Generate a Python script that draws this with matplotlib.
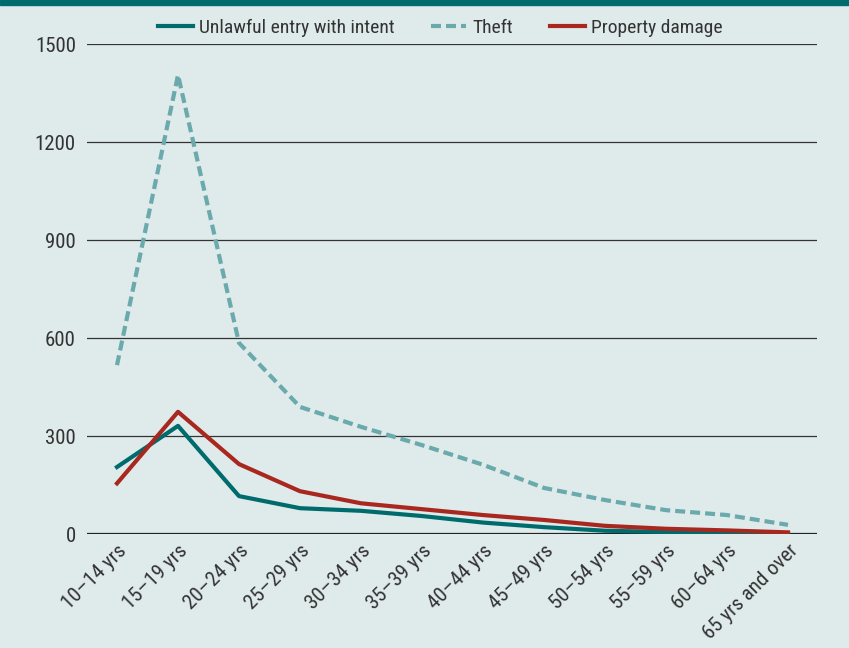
import matplotlib
matplotlib.use("Agg")
import matplotlib.pyplot as plt
from matplotlib.patches import Rectangle

# --- Data ---
age_groups = ["10–14 yrs", "15–19 yrs", "20–24 yrs", "25–29 yrs", "30–34 yrs", "35–39 yrs",
              "40–44 yrs", "45–49 yrs", "50–54 yrs", "55–59 yrs", "60–64 yrs", "65 yrs and over"]
unlawful_entry = [205, 331, 116, 79, 71, 55, 35, 21, 10, 6, 4, 2]
theft = [517, 1405, 585, 389, 328, 272, 212, 141, 104, 73, 58, 28]
property_damage = [155, 374, 214, 131, 94, 76, 58, 43, 25, 16, 11, 5]
y_ticks = [0, 300, 600, 900, 1200, 1500]

BG = "#dfeaeb"
TEAL = "#006b6d"
LIGHT_TEAL = "#6aaaac"
RED = "#a8281f"
TXT = "#333333"

plt.rcParams['font.family'] = ['Roboto Condensed', 'DejaVu Sans']

fig = plt.figure(figsize=(8.49, 6.48), dpi=100)
fig.patch.set_facecolor(BG)
fig.patches.append(Rectangle((0, 1 - 5 / 648), 1, 5 / 648, transform=fig.transFigure,
                             color=TEAL, zorder=0))

ax = fig.add_axes([87 / 849, 1 - 534 / 648, 730 / 849, 490 / 648])
ax.set_facecolor(BG)
x = list(range(len(age_groups)))

# Gridlines
for yv in y_ticks[1:]:
    ax.axhline(yv, color="#333333", linewidth=0.9, zorder=1)
ax.axhline(0, color="#222222", linewidth=1.6, zorder=1)

ax.plot(x, unlawful_entry, color=TEAL, linewidth=3, label="Unlawful entry with intent", zorder=3)
ax.plot(x, theft, color=LIGHT_TEAL, linewidth=3, linestyle=(0, (2.4, 1.2)), label="Theft", zorder=3)
ax.plot(x, property_damage, color=RED, linewidth=3, label="Property damage", zorder=4)

ax.set_xlim(-30 / 61, 11 + 29 / 61)
ax.set_ylim(0, 1500)
ax.set_yticks(y_ticks)
ax.set_yticklabels([str(v) for v in y_ticks], fontsize=15, color=TXT)
ax.set_xticks(x)
ax.set_xticklabels(age_groups, rotation=45, ha="right", rotation_mode="anchor",
                   fontsize=15, color=TXT)
ax.tick_params(axis="both", length=0)
ax.tick_params(axis="y", pad=8)
ax.tick_params(axis="x", pad=5)
for s in ax.spines.values():
    s.set_visible(False)

fig.legend(loc="center", bbox_to_anchor=(440 / 849, 1 - 27.5 / 648), ncol=3, frameon=False,
           fontsize=14, handlelength=1.8, columnspacing=1.9, handletextpad=0.3,
           labelcolor=TXT)

fig.savefig("out.png", dpi=100, facecolor=BG)
